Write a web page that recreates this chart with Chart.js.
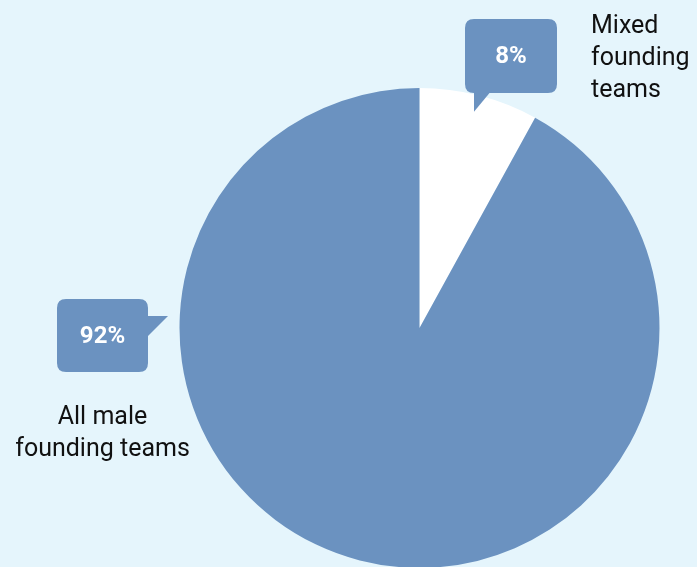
<!DOCTYPE html>
<html>
<head>
<meta charset="utf-8">
<script src="https://cdn.jsdelivr.net/npm/chart.js@4"></script>
<style>
  html, body { margin: 0; padding: 0; background: #e5f5fc; }
  #wrap { width: 697px; height: 567px; overflow: hidden; position: relative; }
  #wrap canvas { display: block; }
</style>
</head>
<body>
<div id="wrap"><canvas id="pie" width="697" height="600"></canvas></div>
<script>
// values
const categories = ['Mixed founding teams', 'All male founding teams'];
const shares = [8, 92];
const sliceColours = ['#ffffff', '#6b92c0'];

const blue = '#6b92c0';
const textFont = '"Roboto", "Open Sans", sans-serif';

function roundRect(ctx, x, y, w, h, r) {
    ctx.beginPath();
    ctx.moveTo(x + r, y);
    ctx.lineTo(x + w - r, y);
    ctx.quadraticCurveTo(x + w, y, x + w, y + r);
    ctx.lineTo(x + w, y + h - r);
    ctx.quadraticCurveTo(x + w, y + h, x + w - r, y + h);
    ctx.lineTo(x + r, y + h);
    ctx.quadraticCurveTo(x, y + h, x, y + h - r);
    ctx.lineTo(x, y + r);
    ctx.quadraticCurveTo(x, y, x + r, y);
    ctx.closePath();
}

// speech-bubble callouts + the category labels
const callouts = {
    id: 'callouts',
    afterDraw(chart) {
        const ctx = chart.ctx;
        const arcs = chart.getDatasetMeta(0).data;
        ctx.save();

        // 8% bubble, pointer down into the white slice
        const a = arcs[0];
        const mid = (a.startAngle + a.endAngle) / 2;
        const tipX = a.x + Math.cos(mid) * a.outerRadius * 0.93;
        const tipY = a.y + Math.sin(mid) * a.outerRadius * 0.93;
        ctx.fillStyle = blue;
        roundRect(ctx, 465, 19, 92, 74, 9);
        ctx.fill();
        ctx.beginPath();
        ctx.moveTo(tipX - 1, 90);
        ctx.lineTo(tipX - 1, tipY);
        ctx.lineTo(tipX + 17, 90);
        ctx.closePath();
        ctx.fill();

        // 92% bubble, pointer to the right
        roundRect(ctx, 57, 299, 91, 73, 9);
        ctx.fill();
        ctx.beginPath();
        ctx.moveTo(145, 316);
        ctx.lineTo(168, 316);
        ctx.lineTo(145, 339);
        ctx.closePath();
        ctx.fill();

        ctx.fillStyle = '#ffffff';
        ctx.font = 'bold 24px ' + textFont;
        ctx.textAlign = 'center';
        ctx.textBaseline = 'middle';
        ctx.fillText(shares[0] + '%', 511, 57);
        ctx.fillText(shares[1] + '%', 102.5, 337);

        ctx.fillStyle = '#111111';
        ctx.font = '25px ' + textFont;
        ctx.textBaseline = 'alphabetic';
        ctx.textAlign = 'left';
        ['Mixed', 'founding', 'teams'].forEach((t, i) => ctx.fillText(t, 591, 33 + i * 32));
        ctx.textAlign = 'center';
        ['All male', 'founding teams'].forEach((t, i) => ctx.fillText(t, 102.5, 424 + i * 32));

        ctx.restore();
    }
};

new Chart(document.getElementById('pie'), {
    type: 'pie',
    data: {
        labels: categories,
        datasets: [{
            data: shares,
            backgroundColor: sliceColours,
            borderWidth: 0
        }]
    },
    options: {
        responsive: false,
        animation: false,
        layout: { padding: { left: 179, right: 37, top: 88, bottom: 32 } },
        plugins: {
            legend: { display: false },
            tooltip: { enabled: false }
        }
    },
    plugins: [callouts]
});
</script>
</body>
</html>
